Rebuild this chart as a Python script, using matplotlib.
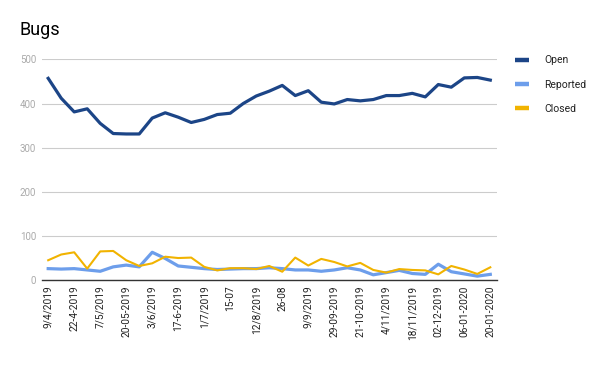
import matplotlib
matplotlib.use("Agg")
import matplotlib.pyplot as plt

categories = [
    "9/4/2019", "15/4/2019", "22-4-2019", "29-4-2019", "7/5/2019", "13-05-2019",
    "20-05-2019", "27-05-2019", "3/6/2019", "10/6/2019", "17-6-2019", "24-6-2019",
    "1/7/2019", "8/7/2019", "15-07", "22-07", "12/8/2019", "19/8/2019", "26-08",
    "2/9/2019", "9/9/2019", "16/9/2019", "29-09-2019", "07-10-2019", "21-10-2019",
    "28-10-2019", "4/11/2019", "11/11/2019", "18/11/2019", "25/11/2019",
    "02-12-2019", "16-12-2019", "06-01-2020", "13-01-2020", "20-01-2020",
]
open_bugs = [457, 412, 381, 388, 355, 332, 331, 331, 367, 379, 369, 357, 364, 375,
             378, 400, 417, 428, 441, 418, 429, 403, 399, 409, 406, 409, 418, 418,
             423, 415, 443, 437, 458, 459, 453]
reported = [26, 25, 26, 23, 20, 30, 34, 30, 63, 49, 32, 29, 26, 24, 25, 26, 26, 28,
            26, 23, 23, 20, 23, 28, 23, 12, 17, 22, 15, 13, 36, 19, 14, 9, 13]
closed = [45, 58, 63, 26, 65, 66, 45, 32, 38, 53, 50, 51, 30, 22, 27, 27, 25, 32,
          19, 51, 33, 48, 41, 31, 39, 23, 17, 25, 23, 22, 13, 32, 24, 14, 29]
yticks = [0, 100, 200, 300, 400, 500]

plt.rcParams['font.family'] = ['Roboto', 'DejaVu Sans']

fig = plt.figure(figsize=(6, 3.71), dpi=100)
ax = fig.add_axes([0.0695, 0.245, 0.7585, 0.595])

x = list(range(len(categories)))
ax.plot(x, open_bugs, color='#1c4587', lw=2.3, label='Open', solid_joinstyle='round', zorder=3)
ax.plot(x, reported, color='#6d9eeb', lw=2.3, label='Reported', solid_joinstyle='round', zorder=2)
ax.plot(x, closed, color='#f1b300', lw=1.5, label='Closed', solid_joinstyle='round', zorder=4)

ax.set_xlim(-0.5, len(categories) - 0.5)
ax.set_ylim(0, 500)
ax.set_yticks(yticks)
ax.set_yticklabels([str(v) for v in yticks], color='#aaaaaa', fontsize=7)
ax.grid(axis='y', color='#cccccc', lw=0.8)
ax.set_axisbelow(True)
for s in ['top', 'right', 'left']:
    ax.spines[s].set_visible(False)
ax.spines['bottom'].set_color('#333333')
ax.spines['bottom'].set_linewidth(1.0)
ax.tick_params(axis='y', length=0, pad=4)
ax.tick_params(axis='x', length=0, pad=4)
ax.set_xticks(x[::2])
ax.set_xticklabels(categories[::2], rotation=90, fontsize=7.3, color='#222222')

fig.text(0.033, 0.918, 'Bugs', fontsize=13, color='#000000', va='center', ha='left')

leg = ax.legend(loc='upper left', bbox_to_anchor=(1.02, 1.06), frameon=False,
                fontsize=7.5, handlelength=1.3, handleheight=0.5,
                labelspacing=1.35, handletextpad=1.5)
for t in leg.get_texts():
    t.set_color('#222222')
for h in leg.get_lines():
    h.set_linewidth(3.2)
    h.set_solid_capstyle('butt')

fig.savefig('out.png', dpi=100)
